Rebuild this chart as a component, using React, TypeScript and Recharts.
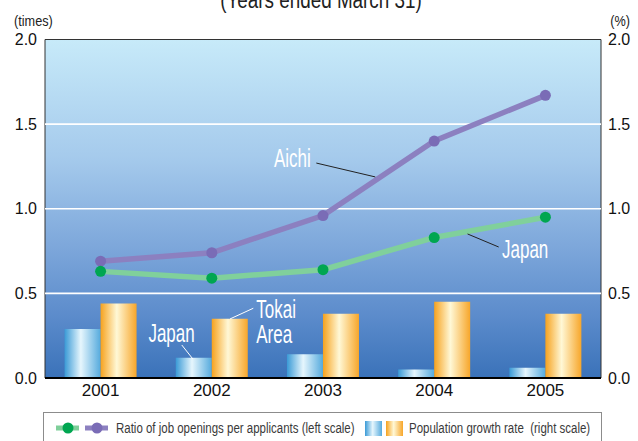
import React from "react";
import {
  Bar,
  ComposedChart,
  Line,
  ReferenceArea,
  ReferenceDot,
  ReferenceLine,
  XAxis,
  YAxis
} from "recharts";

const years = [2001, 2002, 2003, 2004, 2005];
const ratioAichi = [0.69, 0.74, 0.96, 1.4, 1.67];
const ratioJapan = [0.63, 0.59, 0.64, 0.83, 0.95];
const popJapan = [0.29, 0.12, 0.14, 0.05, 0.06];
const popTokai = [0.44, 0.35, 0.38, 0.45, 0.38];
const valueTicks = [0, 0.5, 1.0, 1.5, 2.0];
const gridValues = [0.5, 1.0, 1.5];

// callouts in data units (year, value)
const callouts = [
  { text: "Aichi", x: 2002.89, y: 1.247, anchor: "end", from: [2002.94, 1.27], to: [2003.47, 1.188], ink: "#222" },
  { text: "Japan", x: 2004.61, y: 0.709, anchor: "start", from: [2004.3, 0.851], to: [2004.58, 0.774], ink: "#222" },
  { text: "Japan", x: 2001.43, y: 0.213, anchor: "start", from: [2001.73, 0.195], to: [2001.83, 0.112], ink: "#fff" },
  { text: "Tokai", x: 2002.4, y: 0.353, anchor: "start", from: [2002.164, 0.349], to: [2002.373, 0.412], ink: "#fff" },
  { text: "Area", x: 2002.4, y: 0.209, anchor: "start", from: null, to: null, ink: "#fff" }
];

const rows = years.map((year, i) => ({
  year,
  aichi: ratioAichi[i],
  japan: ratioJapan[i],
  popJapan: popJapan[i],
  popTokai: popTokai[i]
}));

const SANS = "'Liberation Sans', Arial, sans-serif";

// condensed text: Liberation Sans squeezed horizontally
function NText({ x, y, size, sx = 0.82, anchor = "start", fill = "#222", children }: any) {
  return (
    <text
      transform={`translate(${x},${y}) scale(${sx},1)`}
      textAnchor={anchor}
      fontFamily={SANS}
      fontSize={size}
      fill={fill}
      style={{ whiteSpace: "pre" }}
    >
      {children}
    </text>
  );
}

function Legend() {
  return (
    <div
      style={{
        position: "absolute",
        left: 43,
        top: 412,
        width: 557,
        height: 40,
        border: "1px solid #8c8c8c",
        background: "#fff"
      }}
    >
      <svg width={557} height={40} style={{ position: "absolute", left: 0, top: 0 }}>
        <defs>
          <linearGradient id="lgBlue" x1="0" y1="0" x2="1" y2="0">
            <stop offset="0%" stopColor="#3a9ad6" />
            <stop offset="45%" stopColor="#e6f6fd" />
            <stop offset="100%" stopColor="#55aadd" />
          </linearGradient>
          <linearGradient id="lgOrange" x1="0" y1="0" x2="1" y2="0">
            <stop offset="0%" stopColor="#f6a21e" />
            <stop offset="45%" stopColor="#fff8d6" />
            <stop offset="100%" stopColor="#f7a62a" />
          </linearGradient>
        </defs>
        <line x1={12} x2={35} y1={15} y2={15} stroke="#7fcf9a" strokeWidth={5} />
        <circle cx={24} cy={15} r={5.5} fill="#00a651" />
        <line x1={41} x2={64} y1={15} y2={15} stroke="#8c80c0" strokeWidth={5} />
        <circle cx={53} cy={15} r={5.5} fill="#7a6cb6" />
        <NText x={72} y={20} size={14} fill="#3a3a3a">
          Ratio of job openings per applicants (left scale)
        </NText>
        <rect x={321} y={8} width={17} height={15} fill="url(#lgBlue)" />
        <rect x={342} y={8} width={17} height={15} fill="url(#lgOrange)" />
        <NText x={365} y={20} size={14} fill="#3a3a3a">
          Population growth rate  (right scale)
        </NText>
      </svg>
    </div>
  );
}

export default function App() {
  return (
    <div style={{ position: "absolute", left: 0, top: 0, width: 638, height: 441, overflow: "hidden", background: "#fff" }}>
      <svg width={638} height={40} style={{ position: "absolute", left: 0, top: 0 }}>
        <NText x={321} y={8} size={23} anchor="middle" fill="#222">
          (Years ended March 31)
        </NText>
        <NText x={14} y={26} size={15.5} fill="#222">
          (times)
        </NText>
        <NText x={630} y={26} size={15.5} anchor="end" fill="#222">
          (%)
        </NText>
      </svg>
      <div style={{ position: "absolute", left: 0, top: 0 }}>
        <ComposedChart
          width={638}
          height={441}
          data={rows}
          margin={{ top: 39.5, right: 7, left: 5, bottom: 33 }}
          barCategoryGap="17.6%"
          barGap={0}
        >
          <defs>
            <linearGradient id="plotBg" x1="0" y1="0" x2="0" y2="1">
              <stop offset="0%" stopColor="#c7eaf9" />
              <stop offset="35%" stopColor="#a5caec" />
              <stop offset="62%" stopColor="#7ca6da" />
              <stop offset="82%" stopColor="#5b8bcb" />
              <stop offset="100%" stopColor="#3a72b9" />
            </linearGradient>
            <linearGradient id="barBlue" x1="0" y1="0" x2="1" y2="0">
              <stop offset="0%" stopColor="#3a9ad6" />
              <stop offset="45%" stopColor="#e6f6fd" />
              <stop offset="100%" stopColor="#55aadd" />
            </linearGradient>
            <linearGradient id="barOrange" x1="0" y1="0" x2="1" y2="0">
              <stop offset="0%" stopColor="#f6a21e" />
              <stop offset="45%" stopColor="#fff8d6" />
              <stop offset="100%" stopColor="#f7a62a" />
            </linearGradient>
          </defs>
          <XAxis
            dataKey="year"
            type="number"
            domain={[2000.5, 2005.5]}
            ticks={years}
            allowDataOverflow
            height={30}
            tickSize={0}
            tickMargin={6}
            axisLine={{ stroke: "#000", strokeWidth: 2 }}
            tick={{ fill: "#111", fontSize: 17, fontFamily: SANS }}
            tickFormatter={(v) => String(v)}
          />
          <YAxis
            yAxisId="left"
            domain={[0, 2]}
            ticks={valueTicks}
            width={40}
            tickSize={0}
            tickMargin={8}
            axisLine={false}
            tick={{ fill: "#111", fontSize: 16, fontFamily: SANS }}
            tickFormatter={(v) => Number(v).toFixed(1)}
          />
          <YAxis
            yAxisId="right"
            orientation="right"
            domain={[0, 2]}
            ticks={valueTicks}
            width={30}
            tickSize={0}
            tickMargin={7}
            axisLine={false}
            tick={{ fill: "#111", fontSize: 16, fontFamily: SANS, textAnchor: "start" }}
            tickFormatter={(v) => Number(v).toFixed(1)}
          />
          <ReferenceArea
            yAxisId="left"
            y1={0}
            y2={2}
            fill="url(#plotBg)"
            fillOpacity={1}
            stroke="#333"
            strokeWidth={1}
            ifOverflow="visible"
          />
          {gridValues.map((v) => (
            <ReferenceLine key={v} yAxisId="left" y={v} stroke="#fff" strokeWidth={1.6} />
          ))}
          <Bar yAxisId="right" dataKey="popJapan" fill="url(#barBlue)" isAnimationActive={false} />
          <Bar yAxisId="right" dataKey="popTokai" fill="url(#barOrange)" isAnimationActive={false} />
          <Line
            yAxisId="left"
            dataKey="aichi"
            stroke="#8c80c0"
            strokeWidth={5.5}
            dot={{ r: 5.5, fill: "#7a6cb6", stroke: "none" }}
            activeDot={false}
            isAnimationActive={false}
          />
          <Line
            yAxisId="left"
            dataKey="japan"
            stroke="#80d09b"
            strokeWidth={5.5}
            dot={{ r: 5.5, fill: "#00a651", stroke: "none" }}
            activeDot={false}
            isAnimationActive={false}
          />
          {callouts.map((c, i) =>
            c.from && c.to ? (
              <ReferenceLine
                key={`lead-${i}`}
                yAxisId="left"
                segment={[
                  { x: c.from[0], y: c.from[1] },
                  { x: c.to[0], y: c.to[1] }
                ]}
                stroke={c.ink}
                strokeWidth={1}
                ifOverflow="visible"
              />
            ) : null
          )}
          {callouts.map((c, i) => (
            <ReferenceDot
              key={`txt-${i}`}
              yAxisId="left"
              x={c.x}
              y={c.y}
              r={0}
              ifOverflow="visible"
              shape={(p: any) => (
                <NText x={p.cx} y={p.cy} size={25} sx={0.68} anchor={c.anchor} fill="#fff">
                  {c.text}
                </NText>
              )}
            />
          ))}
        </ComposedChart>
      </div>
      <Legend />
    </div>
  );
}
